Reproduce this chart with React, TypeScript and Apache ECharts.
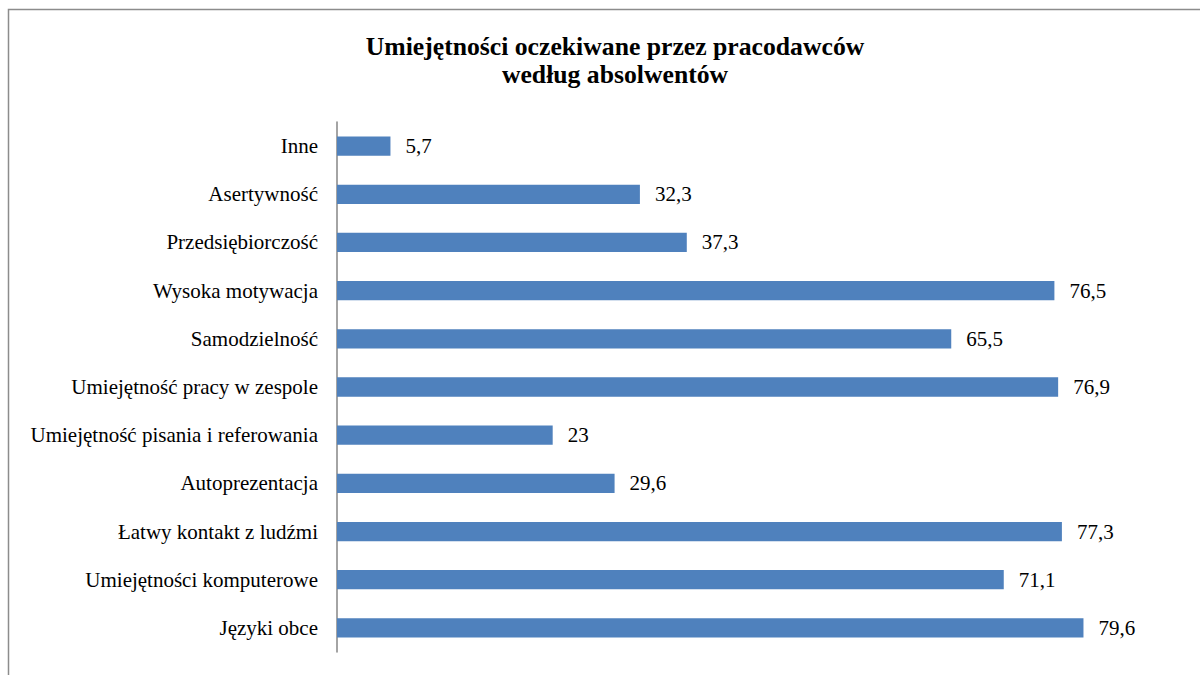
import React, { useEffect, useRef } from "react";
import * as echarts from "echarts";

const categories = [
  "Języki obce",
  "Umiejętności komputerowe",
  "Łatwy kontakt z ludźmi",
  "Autoprezentacja",
  "Umiejętność pisania i referowania",
  "Umiejętność pracy w zespole",
  "Samodzielność",
  "Wysoka motywacja",
  "Przedsiębiorczość",
  "Asertywność",
  "Inne",
];
const values = [79.6, 71.1, 77.3, 29.6, 23, 76.9, 65.5, 76.5, 37.3, 32.3, 5.7];
const titleLines = ["Umiejętności oczekiwane przez pracodawców", "według absolwentów"];

export default function App() {
  const ref = useRef<HTMLDivElement>(null);
  useEffect(() => {
    const chart = echarts.init(ref.current!, null, { renderer: "svg" });
    const font = "Liberation Serif";
    chart.setOption({
      animation: false,
      backgroundColor: "#ffffff",
      textStyle: { fontFamily: font },
      title: {
        text: titleLines.join("\n"),
        left: 610,
        top: 27,
        textAlign: "center",
        textStyle: { fontFamily: font, fontSize: 25.7, fontWeight: "bold", color: "#000", lineHeight: 28 },
      },
      graphic: [
        {
          type: "rect",
          shape: { x: 8.5, y: 9.5, width: 1200, height: 700 },
          style: { fill: "none", stroke: "#8c8c8c", lineWidth: 1.5 },
          silent: true,
        },
      ],
      grid: { left: 337, top: 122, width: 844, height: 530, containLabel: false },
      xAxis: {
        type: "value",
        min: 0,
        max: 90,
        show: false,
      },
      yAxis: {
        type: "category",
        data: categories,
        axisLine: { show: true, lineStyle: { color: "#868686", width: 1.5 } },
        axisTick: { show: false },
        axisLabel: { color: "#000", fontSize: 21, fontFamily: font, margin: 19 },
      },
      series: [
        {
          type: "bar",
          data: values,
          barWidth: "40%",
          itemStyle: { color: "#4F81BD" },
          label: {
            show: true,
            position: "right",
            distance: 15,
            color: "#000",
            fontSize: 21,
            fontFamily: font,
            formatter: (p: any) => String(p.value).replace(".", ","),
          },
        },
      ],
    });
    return () => chart.dispose();
  }, []);
  return (
    <div
      ref={ref}
      style={{ position: "fixed", left: 0, top: 0, width: 1200, height: 675 }}
    />
  );
}
